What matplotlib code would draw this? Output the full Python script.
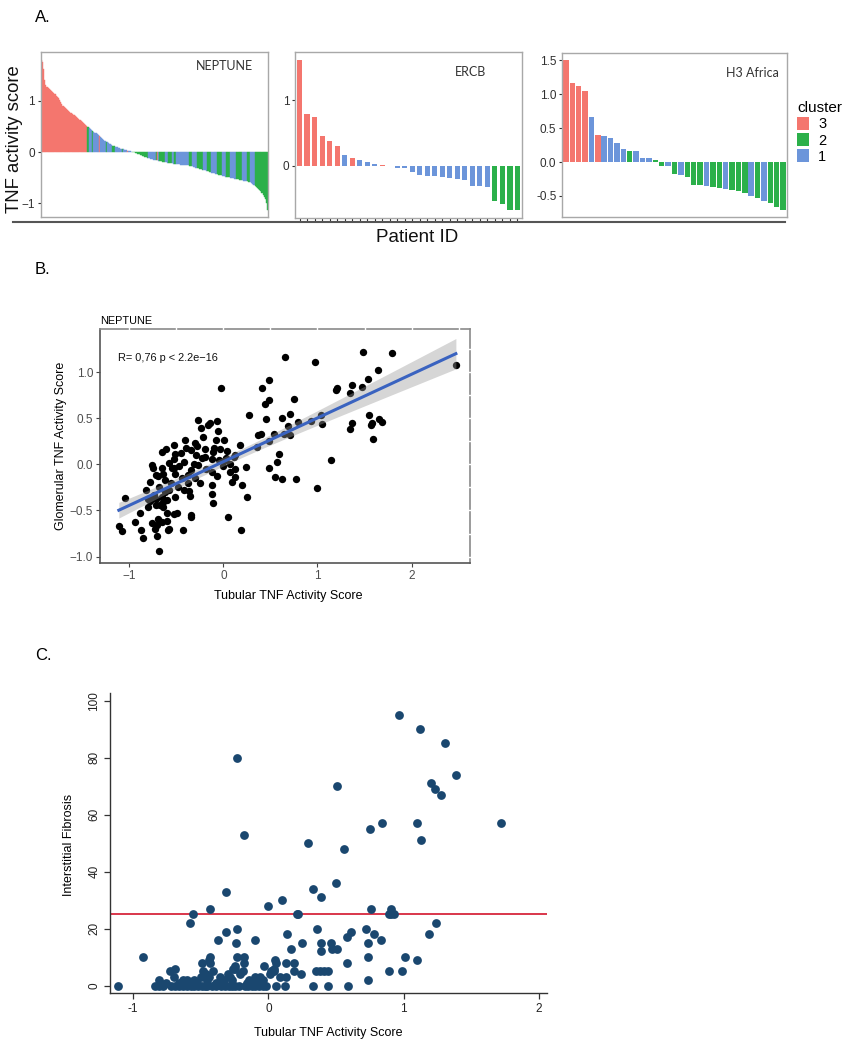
import numpy as np
import matplotlib
matplotlib.use('Agg')
import matplotlib.pyplot as plt
from matplotlib.patches import Patch
from matplotlib.lines import Line2D
import matplotlib.transforms as mtransforms

plt.rcParams['font.family'] = ['Liberation Sans', 'DejaVu Sans']

# ---------------- data ----------------
cluster_levels = ['3', '2', '1']
cluster_colors = {'3': '#F4766E', '2': '#2BB04A', '1': '#6C95DA'}

# Panel A: NEPTUNE (sorted TNF activity score per patient)
neptune_scores = [
    1.81, 1.76, 1.62, 1.40, 1.31, 1.28, 1.26, 1.24, 1.22, 1.19,
    1.17, 1.15, 1.13, 1.10, 1.07, 1.05, 1.01, 0.98, 0.95, 0.91,
    0.89, 0.87, 0.85, 0.83, 0.81, 0.79, 0.76, 0.74, 0.73, 0.72,
    0.70, 0.68, 0.66, 0.64, 0.62, 0.61, 0.59, 0.57, 0.55, 0.53,
    0.51, 0.49, 0.47, 0.45, 0.43, 0.42, 0.40, 0.38, 0.37, 0.35,
    0.33, 0.31, 0.29, 0.27, 0.26, 0.24, 0.22, 0.20, 0.19, 0.17,
    0.16, 0.15, 0.14, 0.13, 0.12, 0.11, 0.10, 0.10, 0.09, 0.08,
    0.07, 0.07, 0.06, 0.05, 0.05, 0.04, 0.03, 0.02, 0.02, 0.01,
    0.01, 0.005, -0.005, -0.01, -0.02, -0.03, -0.04, -0.05, -0.06, -0.07,
    -0.08, -0.09, -0.10, -0.11, -0.12, -0.12, -0.13, -0.14, -0.14, -0.15,
    -0.15, -0.16, -0.16, -0.17, -0.17, -0.18, -0.18, -0.19, -0.19, -0.20,
    -0.20, -0.21, -0.21, -0.22, -0.22, -0.22, -0.23, -0.23, -0.23, -0.24,
    -0.24, -0.24, -0.25, -0.25, -0.25, -0.25, -0.26, -0.26, -0.26, -0.26,
    -0.27, -0.27, -0.28, -0.28, -0.29, -0.29, -0.30, -0.30, -0.31, -0.32,
    -0.32, -0.33, -0.34, -0.34, -0.35, -0.36, -0.37, -0.37, -0.38, -0.39,
    -0.40, -0.40, -0.41, -0.42, -0.43, -0.43, -0.44, -0.45, -0.45, -0.46,
    -0.46, -0.47, -0.48, -0.48, -0.49, -0.49, -0.50, -0.50, -0.51, -0.51,
    -0.52, -0.52, -0.53, -0.53, -0.54, -0.54, -0.55, -0.55, -0.56, -0.56,
    -0.57, -0.57, -0.58, -0.58, -0.59, -0.60, -0.62, -0.64, -0.66, -0.68,
    -0.70, -0.72, -0.74, -0.76, -0.79, -0.83, -0.87, -0.92, -1.00, -1.12,
]
# cluster of each NEPTUNE bar, as (cluster, run length) in bar order
neptune_cluster_runs = [
    ('3', 41), ('2', 1), ('1', 3), ('2', 1), ('1', 5), ('3', 1), ('1', 5),
    ('2', 1), ('1', 5), ('2', 2), ('1', 6), ('2', 1), ('1', 4), ('3', 1),
    ('1', 3), ('2', 14), ('1', 7), ('2', 1), ('3', 1), ('1', 1), ('2', 5),
    ('1', 3), ('2', 3), ('1', 2), ('2', 2), ('1', 11), ('2', 3), ('1', 4),
    ('2', 6), ('1', 3), ('2', 4), ('1', 5), ('2', 4), ('1', 4), ('2', 3),
    ('1', 6), ('2', 5), ('1', 4), ('2', 3), ('1', 4), ('2', 12),
]

ercb_scores = [1.62, 0.79, 0.74, 0.45, 0.38, 0.30, 0.16, 0.12, 0.09, 0.06,
               0.03, 0.02, 0.0, -0.03, -0.03, -0.09, -0.14, -0.16, -0.16, -0.17,
               -0.18, -0.20, -0.22, -0.30, -0.30, -0.32, -0.53, -0.58, -0.67, -0.68]
ercb_clusters = ['3', '3', '3', '3', '3', '3', '1', '3', '1', '1',
                 '1', '3', '1', '1', '1', '1', '1', '1', '1', '1',
                 '1', '1', '1', '1', '1', '1', '2', '2', '2', '2']

h3_scores = [1.50, 1.16, 1.12, 1.05, 0.66, 0.40, 0.38, 0.36, 0.28, 0.19,
             0.17, 0.16, 0.06, 0.06, 0.03, -0.06, -0.06, -0.17, -0.19, -0.22,
             -0.34, -0.34, -0.35, -0.37, -0.38, -0.40, -0.41, -0.42, -0.46, -0.50,
             -0.53, -0.57, -0.61, -0.66, -0.70]
h3_clusters = ['3', '3', '3', '3', '1', '3', '1', '1', '1', '1',
               '2', '1', '1', '1', '2', '2', '1', '2', '1', '2',
               '2', '2', '1', '2', '2', '1', '2', '2', '2', '1',
               '2', '1', '2', '2', '2']

# Panel B: NEPTUNE tubular vs glomerular TNF activity score
neptune_points = [
    (0.66, 1.17), (0.97, 1.11), (1.48, 1.22), (1.79, 1.21), (2.47, 1.08),
    (1.64, 1.03), (1.54, 0.93), (1.47, 0.84), (1.37, 0.86), (1.35, 0.78),
    (1.20, 0.81), (1.21, 0.83), (0.49, 0.92), (0.41, 0.83), (0.48, 0.70),
    (0.44, 0.66), (0.75, 0.71), (0.27, 0.54), (0.45, 0.49), (0.62, 0.50),
    (0.71, 0.55), (0.93, 0.47), (1.04, 0.54), (1.05, 0.44), (0.79, 0.46),
    (0.69, 0.42), (0.71, 0.32), (0.54, 0.33), (0.37, 0.32), (0.40, 0.33),
    (0.64, 0.33), (0.36, 0.19), (0.18, 0.21), (0.48, 0.25), (0.59, 0.11),
    (0.57, 0.03), (0.48, -0.04), (0.55, -0.14), (0.62, -0.16), (0.77, -0.16),
    (1.14, 0.05), (1.00, -0.26), (1.35, 0.38), (1.37, 0.45), (1.55, 0.54),
    (1.57, 0.43), (1.58, 0.45), (1.65, 0.49), (1.69, 0.46), (1.59, 0.28),
    (0.12, 0.10), (0.12, -0.05), (0.12, -0.14), (0.20, -0.22), (0.24, -0.03),
    (0.25, -0.35), (0.19, -0.71), (-0.02, 0.83), (0.05, -0.57), (0.09, -0.19),
    (0.07, -0.08), (0.07, 0.01), (0.11, 0.08), (0.02, 0.05),
    (-0.27, 0.48), (-0.16, 0.43), (-0.14, 0.45), (-0.07, 0.47), (-0.24, 0.39),
    (-0.06, 0.36), (-0.41, 0.26), (-0.08, 0.26), (0.01, 0.26), (-0.30, 0.23),
    (-0.61, 0.17), (-0.52, 0.21), (-0.40, 0.18), (-0.34, 0.16), (-0.04, 0.17),
    (-0.10, 0.18), (-0.19, 0.17), (0.04, 0.15), (-0.11, 0.14), (-0.29, 0.10),
    (-0.20, 0.08), (-0.51, 0.11), (-0.65, 0.14), (-0.76, -0.01), (-0.52, 0.06),
    (-0.42, 0.03), (-0.31, 0.01), (-0.23, 0.07), (-0.27, -0.01), (-0.12, 0.06),
    (-0.75, -0.04), (-0.71, -0.11), (-0.69, -0.13), (-0.65, -0.04), (-0.64, -0.10),
    (-0.55, -0.04), (-0.52, -0.04), (-0.51, -0.10), (-0.34, -0.06), (-0.38, -0.12),
    (-0.12, -0.08), (-0.07, -0.13), (-0.78, -0.19), (-0.62, -0.17), (-0.38, -0.20),
    (-0.36, -0.29), (-0.58, -0.28), (-0.62, -0.30), (-0.12, -0.22), (-1.04, -0.36),
    (-0.80, -0.37), (-0.78, -0.40), (-0.76, -0.35), (-0.74, -0.33), (-0.71, -0.37),
    (-0.65, -0.35), (-0.64, -0.41), (-0.60, -0.39), (-0.51, -0.35), (-0.35, -0.34),
    (-0.67, -0.44), (-0.64, -0.46), (-0.72, -0.44), (-0.80, -0.46), (-0.12, -0.32),
    (-0.11, -0.42), (-0.89, -0.53), (-0.60, -0.53), (-0.52, -0.54), (-0.49, -0.53),
    (-0.34, -0.55), (-0.34, -0.57), (-0.69, -0.59), (-0.60, -0.61), (-0.65, -0.62),
    (-0.94, -0.63), (-0.76, -0.64), (-1.11, -0.67), (-0.70, -0.66), (-0.58, -0.70),
    (-0.59, -0.71), (-0.73, -0.70), (-0.87, -0.71), (-0.43, -0.71), (-1.08, -0.72),
    (-0.85, -0.80), (-0.70, -0.78), (-0.68, -0.94),
    (-0.45, 0.12), (-0.28, 0.20), (-0.22, 0.30), (-0.18, -0.05), (-0.47, -0.02),
    (-0.44, -0.15), (-0.30, -0.15), (-0.25, -0.20), (-0.56, -0.20), (-0.48, -0.24),
    (-0.42, -0.28), (-0.68, -0.25), (-0.82, -0.28), (-0.58, 0.02), (-0.05, 0.05),
    (0.00, -0.02), (0.03, 0.07),
]
neptune_r_text = 'R= 0,76 p < 2.2e\u221216'

# Panel C: tubular TNF activity score vs interstitial fibrosis
fibrosis_points = [
    (0.97, 95), (1.12, 90), (1.31, 85), (1.39, 74), (-0.23, 80), (1.20, 71),
    (1.23, 69), (1.28, 67), (0.51, 70), (1.72, 57), (1.10, 57), (0.84, 57),
    (0.75, 55), (1.13, 51), (-0.18, 53), (0.29, 50), (0.56, 48), (0.50, 36),
    (0.33, 34), (0.39, 31), (-0.31, 33), (0.10, 30), (0.00, 28), (-0.43, 27),
    (-0.56, 25), (-0.58, 22), (0.21, 25), (0.22, 25), (0.76, 27), (0.91, 27),
    (0.89, 25), (0.93, 25), (0.91, 25), (1.24, 22), (1.19, 18), (0.36, 20),
    (0.72, 20), (0.78, 18), (0.83, 16), (0.61, 19), (0.58, 17), (-0.31, 19),
    (-0.23, 20), (-0.37, 16), (-0.10, 16), (0.14, 18), (0.17, 13), (0.25, 15),
    (0.39, 15), (0.46, 15), (0.47, 13), (0.51, 13), (0.39, 12), (0.74, 15),
    (0.74, 10), (1.01, 10), (1.10, 9), (-0.93, 10),
    (-0.24, 15), (-0.23, 10), (-0.18, 10), (-0.18, 8), (-0.25, 7), (-0.25, 6),
    (-0.43, 10), (-0.43, 8), (-0.49, 8), (-0.44, 9), (-0.41, 5), (-0.69, 6),
    (-0.73, 5), (-0.70, 3), (-0.81, 2), (-0.80, 1), (-0.76, 1), (-0.19, 5),
    (-0.21, 4), (-0.48, 5), (-0.46, 4), (-0.50, 3), (-0.45, 2), (-0.47, 3),
    (-0.44, 3), (-0.36, 3), (-0.33, 2), (-0.30, 4), (-0.28, 3), (-0.27, 2),
    (-0.26, 6), (-0.10, 3), (-0.08, 2), (-0.12, 1), (-0.05, 1), (-0.06, 3),
    (-0.04, 2), (-0.55, 2), (-0.60, 2), (-0.63, 2), (-0.53, 1), (-0.58, 1),
    (-0.66, 1), (-0.39, 1), (-0.35, 1), (-0.14, 2), (-0.16, 1),
    (-0.03, 7), (0.04, 5), (0.05, 9), (0.06, 8), (0.13, 8), (0.19, 8),
    (0.19, 5), (0.24, 4), (0.09, 3), (0.13, 3), (0.02, 5), (0.01, 4),
    (0.35, 5), (0.38, 5), (0.41, 5), (0.44, 5), (0.58, 8), (0.74, 2),
    (0.89, 5), (0.99, 5), (0.04, 6), (0.03, 5),
    (-1.11, 0), (-0.84, 0), (-0.81, 0), (-0.78, 0), (-0.72, 0), (-0.69, 0),
    (-0.66, 0), (-0.63, 0), (-0.60, 0), (-0.57, 0), (-0.55, 0), (-0.52, 0),
    (-0.49, 0), (-0.47, 0), (-0.45, 0), (-0.42, 0), (-0.39, 0), (-0.35, 0),
    (-0.32, 0), (-0.29, 0), (-0.27, 0), (-0.25, 0), (-0.22, 0), (-0.17, 0),
    (-0.15, 0), (-0.12, 0), (-0.10, 0), (-0.07, 0), (-0.04, 0), (-0.02, 0),
    (0.06, 0), (0.12, 0), (0.33, 0), (0.44, 0), (0.59, 0),
]
fibrosis_cutoff = 25

# ---------------- figure ----------------
W, H = 852, 1050
fig = plt.figure(figsize=(W / 100, H / 100), dpi=100)


def ax_px(l, t, r, b):
    return fig.add_axes([l / W, 1 - b / H, (r - l) / W, (b - t) / H])


def fig_text(x, y, s, **kw):
    return fig.text(x / W, 1 - y / H, s, **kw)


def bar_panel(ax, vals, clus, width, yticks, ylabels, xticks_marks=False):
    x = np.arange(1, len(vals) + 1)
    cols = [cluster_colors[c] for c in clus]
    if width >= 1:
        ax.bar(x, vals, width=width, color=cols, edgecolor=cols, linewidth=0.3)
    else:
        ax.bar(x, vals, width=width, color=cols, linewidth=0)
    ax.set_xlim(0.4, len(vals) + 0.6)
    lo, hi = min(vals), max(vals)
    pad = 0.05 * (hi - lo)
    ax.set_ylim(lo - pad, hi + pad)
    for sp in ax.spines.values():
        sp.set_color('#A8A8A8')
        sp.set_linewidth(1.0)
    ax.set_yticks(yticks)
    ax.set_yticklabels(ylabels)
    ax.tick_params(axis='y', length=2.5, width=0.8, color='#333333',
                   labelsize=8.5, labelcolor='#303030', pad=1.5)
    if xticks_marks:
        ax.set_xticks(x)
        ax.set_xticklabels([''] * len(x))
        ax.tick_params(axis='x', length=2, width=0.8, color='#333333')
    else:
        ax.set_xticks([])


# Panel A
neptune_clusters = []
for c, n in neptune_cluster_runs:
    neptune_clusters += [c] * n
neptune_clusters = (neptune_clusters + ['2'] * len(neptune_scores))[:len(neptune_scores)]

axA1 = ax_px(40.7, 52, 268.3, 217)
bar_panel(axA1, neptune_scores, neptune_clusters, 1.0, [-1, 0, 1], ['\u22121', '0', '1'])
axA2 = ax_px(295, 52, 522, 218)
bar_panel(axA2, ercb_scores, ercb_clusters, 0.68, [0, 1], ['0', '1'], xticks_marks=True)
axA3 = ax_px(562, 53, 787, 217)
bar_panel(axA3, h3_scores, h3_clusters, 0.85, [-0.5, 0, 0.5, 1.0, 1.5],
          ['-0.5', '0.0', '0.5', '1.0', '1.5'])

fig_text(224.7, 66, 'NEPTUNE', family=['Lato', 'DejaVu Sans'], fontsize=9,
         color='#333333', ha='center', va='center')
fig_text(470, 72, 'ERCB', family=['Lato', 'DejaVu Sans'], fontsize=9,
         color='#333333', ha='center', va='center')
fig_text(752, 73, 'H3 Africa', family=['Lato', 'DejaVu Sans'], fontsize=9,
         color='#333333', ha='center', va='center')

fig_text(15, 139, 'TNF activity score', rotation=90, fontsize=13.3,
         ha='center', va='center', color='#111111')
fig.add_artist(Line2D([13 / W, 785 / W], [1 - 222 / H, 1 - 222 / H],
                      color='#555555', linewidth=1.5))
fig_text(417, 237, 'Patient ID', fontsize=13.5, ha='center', va='center', color='#111111')

handles = [Patch(facecolor=cluster_colors[c], edgecolor='none') for c in cluster_levels]
fig.legend(handles, cluster_levels, title='cluster', loc='upper left',
           bbox_to_anchor=(797 / W, 1 - 101 / H), frameon=False, fontsize=10.5,
           title_fontsize=11, handlelength=0.85, handleheight=1.0,
           labelspacing=0.12, handletextpad=0.6, borderpad=0, borderaxespad=0,
           alignment='left')

fig_text(35, 18, 'A.', fontsize=12, ha='left', va='center')
fig_text(35, 270, 'B.', fontsize=12, ha='left', va='center')
fig_text(35, 655, 'C.', fontsize=12, ha='left', va='center')

# Panel B
axB = ax_px(100, 329, 470, 563)
bx = np.array([p[0] for p in neptune_points])
by = np.array([p[1] for p in neptune_points])
axB.scatter(bx, by, s=28, color='black', linewidths=0, zorder=3)
slope, intercept = np.polyfit(bx, by, 1)
xs = np.linspace(bx.min(), bx.max(), 100)
n = len(bx)
resid = by - (slope * bx + intercept)
s_err = np.sqrt(np.sum(resid ** 2) / (n - 2))
sxx = np.sum((bx - bx.mean()) ** 2)
se = s_err * np.sqrt(1 / n + (xs - bx.mean()) ** 2 / sxx)
yfit = slope * xs + intercept
axB.fill_between(xs, yfit - 1.97 * se, yfit + 1.97 * se, color='#999999',
                 alpha=0.4, linewidth=0, zorder=4)
axB.plot(xs, yfit, color='#3A63C0', linewidth=2.2, zorder=5)
axB.set_xlim(-1.31, 2.62)
axB.set_ylim(-1.07, 1.47)
axB.set_xticks([-1, 0, 1, 2])
axB.set_xticklabels(['\u22121', '0', '1', '2'])
axB.set_yticks([-1, -0.5, 0, 0.5, 1.0])
axB.set_yticklabels(['\u22121.0', '\u22120.5', '0.0', '0.5', '1.0'])
axB.tick_params(length=3, width=0.8, color='#444444', labelsize=8.5,
                labelcolor='#4D4D4D', pad=2)
for k in ['top', 'right']:
    axB.spines[k].set_color('#8A8A8A')
    axB.spines[k].set_linewidth(1.2)
for k in ['left', 'bottom']:
    axB.spines[k].set_color('#555555')
    axB.spines[k].set_linewidth(1.2)
tx = mtransforms.blended_transform_factory(axB.transData, axB.transAxes)
for gx in [-1, -0.5, 0, 0.5, 1, 1.5, 2, 2.5]:
    axB.plot([gx, gx], [0.99, 1.01], transform=tx, color='white', lw=1.0,
             clip_on=False, zorder=6, solid_capstyle='butt')
ty = mtransforms.blended_transform_factory(axB.transAxes, axB.transData)
for gy in [-1, -0.75, -0.5, -0.25, 0, 0.25, 0.5, 0.75, 1.0, 1.25]:
    axB.plot([0.99, 1.01], [gy, gy], transform=ty, color='white', lw=1.0,
             clip_on=False, zorder=6, solid_capstyle='butt')
axB.text(-1.12, 1.16, neptune_r_text, fontsize=7.9, ha='left', va='center', color='#111111')
fig_text(100, 321, 'NEPTUNE', fontsize=7.8, ha='left', va='center')
fig_text(288, 596, 'Tubular TNF Activity Score', fontsize=9, ha='center', va='center')
fig_text(61, 446, 'Glomerular TNF Activity Score', fontsize=9, rotation=90,
         ha='center', va='center')

# Panel C
axC = ax_px(110, 693, 546.7, 993.3)
cx = [p[0] for p in fibrosis_points]
cy = [p[1] for p in fibrosis_points]
axC.axhline(fibrosis_cutoff, color='#D7263D', linewidth=1.3, zorder=2)
axC.scatter(cx, cy, s=40, color='#1A476F', linewidths=0, zorder=3)
axC.set_xlim(-1.171, 2.059)
axC.set_ylim(-2.67, 102.7)
axC.spines['top'].set_visible(False)
axC.spines['right'].set_visible(False)
for k in ['left', 'bottom']:
    axC.spines[k].set_color('#333333')
    axC.spines[k].set_linewidth(1.0)
axC.set_xticks([-1, 0, 1, 2])
axC.set_xticklabels(['-1', '0', '1', '2'])
axC.set_yticks([0, 20, 40, 60, 80, 100])
axC.set_yticklabels(['0', '20', '40', '60', '80', '100'], rotation=90, va='center')
axC.tick_params(length=4, width=0.9, color='#333333', labelsize=8.5,
                labelcolor='#222222', pad=3)
fig_text(328.7, 1033, 'Tubular TNF Activity Score', fontsize=9, ha='center', va='center')
fig_text(69, 845, 'Interstitial Fibrosis', fontsize=9, rotation=90,
         ha='center', va='center')

fig.savefig('out.png', dpi=100)
